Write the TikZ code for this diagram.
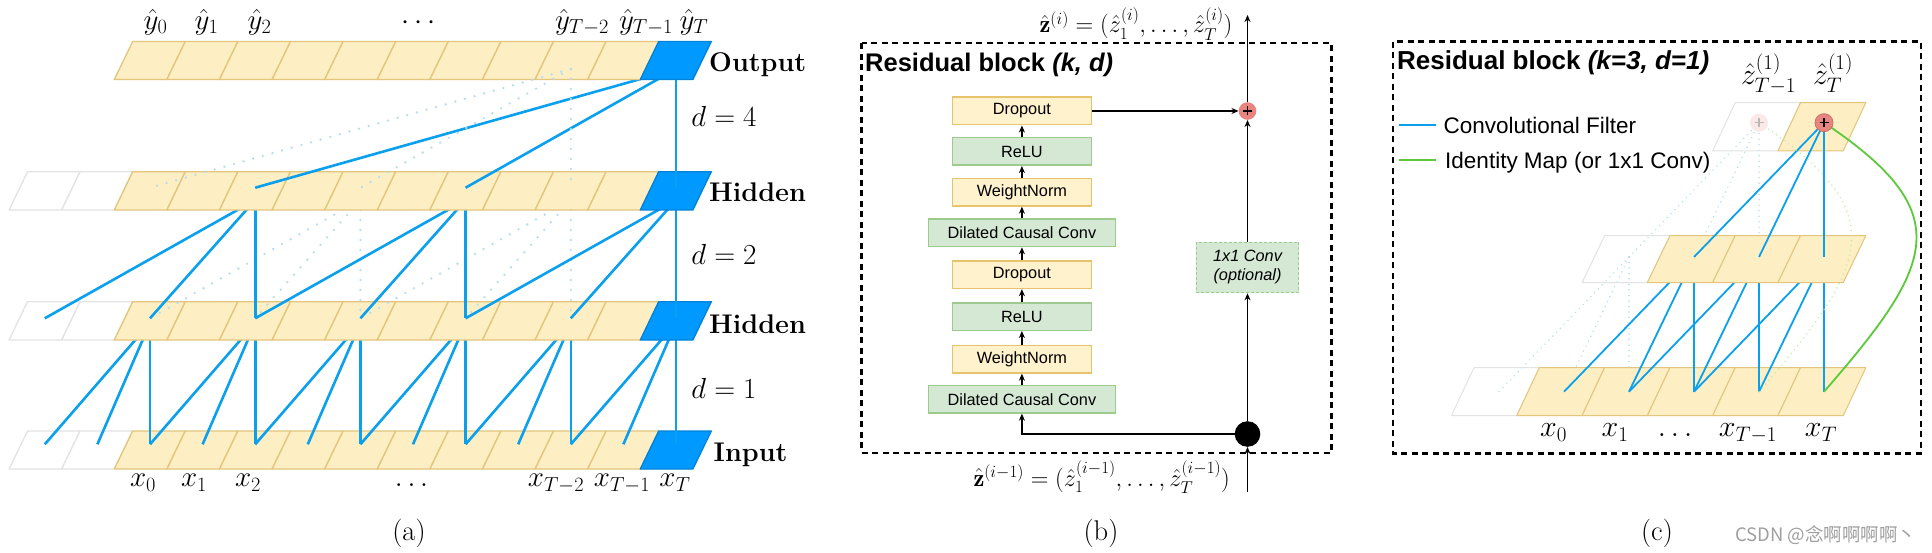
\RequirePackage{fix-cm}
\documentclass[tikz,border=0pt]{standalone}
\usepackage{amsmath}
\usepackage{fontspec}
\newfontfamily\arial{Liberation Sans}
\newfontfamily\cjk{Noto Sans CJK SC}
\usetikzlibrary{arrows.meta}
\definecolor{cellY}{HTML}{FDEEC3}
\definecolor{cellB}{HTML}{E3C57C}
\definecolor{blueC}{HTML}{0099FF}
\definecolor{lineB}{HTML}{0AA0EE}
\definecolor{dotB}{HTML}{B5DDF2}
\definecolor{wB}{HTML}{E3E3E3}
\definecolor{bY}{HTML}{FFF2CC}
\definecolor{bYd}{HTML}{E7C36B}
\definecolor{bG}{HTML}{D5E8D4}
\definecolor{bGd}{HTML}{9DCB8F}
\definecolor{plusR}{HTML}{E8857F}
\definecolor{greenL}{HTML}{5CC93A}
\definecolor{greenD}{HTML}{BDECA8}
\newcommand{\fsz}[1]{\fontsize{#1}{#1}\selectfont}
\newcommand{\arow}[3]{%
  \foreach \i in {#3,...,10}{%
    \pgfmathsetmacro\bl{114.3+52.6*\i}%
    \ifnum\i<0 \def\fc{white}\def\dc{wB}%
    \else\ifnum\i=10 \def\fc{blueC}\def\dc{blueC!85!black}%
    \else\def\fc{cellY}\def\dc{cellB}\fi\fi
    \draw[line width=1.3pt, line join=round, fill=\fc, draw=\dc] (\bl,#2) -- ++(52.6,0) -- ++(18.4,#1-#2) -- ++(-52.6,0) -- cycle;
  }}
\newcommand{\crow}[3]{%
  \foreach \k in {#3,...,4}{%
    \pgfmathsetmacro\xt{1539.3+65.3*\k}%
    \ifnum\k=#3 \def\fc{none}\def\dc{wB}\else\def\fc{cellY}\def\dc{cellB}\fi
    \draw[line width=1pt, line join=round, fill=\fc, draw=\dc] (\xt,#1) -- ++(65.3,0) -- ++(-22.6,#2) -- ++(-65.3,0) -- cycle;
  }}
\tikzset{
 al/.style={draw=lineB, line width=2.6pt},
 adot/.style={draw=dotB, line width=2.6pt, dash pattern=on 0pt off 10pt, line cap=round},
 cl/.style={draw=lineB, line width=1.8pt},
 cdot/.style={draw=dotB, line width=1.6pt, dash pattern=on 0pt off 5.5pt, line cap=round},
 cgd/.style={draw=greenD, line width=1.6pt, dash pattern=on 0pt off 5pt, line cap=round},
 arr/.style={-{Stealth[length=7pt,width=6pt]}, line width=1.4pt},
 fbox/.style={draw, line width=1.5pt, minimum height=27.5pt, inner sep=0pt, font=\arial\fsz{16.3}},
 ybox/.style={fbox, fill=bY, draw=bYd, minimum width=139.3pt},
 gbox/.style={fbox, fill=bG, draw=bGd, minimum width=139.3pt},
 gboxw/.style={fbox, fill=bG, draw=bGd, minimum width=186.7pt},
 dbox/.style={line width=2.4pt, dash pattern=on 6pt off 4.5pt},
 lab/.style={inner sep=0pt, anchor=base},
 amath/.style={lab, font=\fsz{29}},
 blab/.style={inner sep=0pt, anchor=base west, font=\bfseries\fsz{27}},
}
\begin{document}
\begin{tikzpicture}[x=1pt,y=-1pt]
\useasboundingbox (0,0) rectangle (1932,553);
\fill[white] (0,0) rectangle (1932,553);

% ================= panel (a) =================
\foreach \j in {0,...,12}{%
  \pgfmathsetmacro\px{150+52.6*(\j-2)}%
  \coordinate (I\j) at (\px,444.3);
  \coordinate (Hb\j) at (\px,318.3);
  \coordinate (Hbv\j) at (\px,323);
  \coordinate (Ha\j) at (\px,187.7);
  \coordinate (Hav\j) at (\px,200);
  \coordinate (Ov\j) at (\px,69);
}
\arow{431}{469}{-2}
\foreach \j in {2,4,...,12}{%
  \pgfmathtruncatemacro\ja{\j-1}\pgfmathtruncatemacro\jb{\j-2}%
  \draw[al] (Hbv\j) -- (I\j); \draw[al] (Hbv\j) -- (I\ja); \draw[al] (Hbv\j) -- (I\jb);
}
\arow{301.7}{340}{-2}
\foreach \j in {6,10}{%
  \pgfmathtruncatemacro\ja{\j-2}\pgfmathtruncatemacro\jb{\j-4}%
  \draw[adot] (Hav\j) -- (Hb\j); \draw[adot] (Hav\j) -- (Hb\ja); \draw[adot] (Hav\j) -- (Hb\jb);
}
\foreach \j in {4,8,12}{%
  \pgfmathtruncatemacro\ja{\j-2}\pgfmathtruncatemacro\jb{\j-4}%
  \draw[al] (Hav\j) -- (Hb\j); \draw[al] (Hav\j) -- (Hb\ja); \draw[al] (Hav\j) -- (Hb\jb);
}
\arow{171.7}{210}{-2}
\draw[al] (Ov12) -- (Ha12); \draw[al] (Ov12) -- (Ha8); \draw[al] (Ov12) -- (Ha4);
\arow{41.5}{79.5}{0}
\draw[adot] (Ov10) -- (Ha10); \draw[adot] (Ov10) -- (Ha6); \draw[adot] (Ov10) -- (Ha2);

\node[amath] at (155.5,29.5) {$\hat y_0$};
\node[amath] at (206.5,29.5) {$\hat y_1$};
\node[amath] at (259.5,29.5) {$\hat y_2$};
\node[amath] at (421,29.5) {$\cdots$};
\node[amath] at (582,29.5) {$\hat y_{T-2}$};
\node[amath] at (646,29.5) {$\hat y_{T-1}$};
\node[amath] at (694,29.5) {$\hat y_T$};
\node[amath] at (143,486.7) {$x_0$};
\node[amath] at (194,486.7) {$x_1$};
\node[amath] at (248,486.7) {$x_2$};
\node[amath] at (411.5,486.7) {$\ldots$};
\node[amath] at (556,486.7) {$x_{T-2}$};
\node[amath] at (622,486.7) {$x_{T-1}$};
\node[amath] at (675,486.7) {$x_T$};
\node[amath] at (724,126.7) {$d=4$};
\node[amath] at (724,265) {$d=2$};
\node[amath] at (724,398.3) {$d=1$};
\node[blab] at (709,71.7) {Output};
\node[blab] at (709,201.7) {Hidden};
\node[blab] at (709,333.3) {Hidden};
\node[blab] at (713.5,461.7) {Input};
\node[lab, font=\fsz{28.5}] at (409,540.5) {(a)};

% ================= panel (b) =================
\draw[dbox] (861.6,43.3) rectangle (1331.6,452.7);
\node[inner sep=0pt, anchor=base west, font=\arial\bfseries\fsz{25.5}] at (865,71.7) {Residual block \itshape(k, d)};
\node[ybox] (d1) at (1021.9,111) {Dropout};
\node[gbox] (r1) at (1021.9,151.5) {ReLU};
\node[ybox] (w1) at (1021.9,192.2) {WeightNorm};
\node[gboxw] (c1) at (1021.9,232.8) {Dilated Causal Conv};
\node[ybox] (d2) at (1021.9,274.7) {Dropout};
\node[gbox] (r2) at (1021.9,316.5) {ReLU};
\node[ybox] (w2) at (1021.9,359.2) {WeightNorm};
\node[gboxw] (c2) at (1021.9,399.2) {Dilated Causal Conv};
\draw[arr] (c2.north) -- (w2.south);
\draw[arr] (w2.north) -- (r2.south);
\draw[arr] (r2.north) -- (d2.south);
\draw[arr] (d2.north) -- (c1.south);
\draw[arr] (c1.north) -- (w1.south);
\draw[arr] (w1.north) -- (r1.south);
\draw[arr] (r1.north) -- (d1.south);
\node[circle, fill=plusR, minimum size=17.6pt, inner sep=0pt] (plus) at (1247.5,111) {};
\draw[line width=1.4pt] ([xshift=-4.5pt]plus.center) -- ([xshift=4.5pt]plus.center);
\draw[line width=1.4pt] ([yshift=-4.5pt]plus.center) -- ([yshift=4.5pt]plus.center);
\node[draw=bGd, fill=bG, dash pattern=on 3pt off 2pt, line width=1.2pt, minimum width=102.4pt, minimum height=50.4pt, inner sep=0pt, align=center, font=\arial\itshape\fontsize{16.3}{19}\selectfont] (conv) at (1247.5,267.5) {1x1 Conv\\(optional)};
\node[circle, fill=black, minimum size=25.6pt, inner sep=0pt] (dot) at (1247.5,434) {};
\coordinate (btop) at (1247.5,15);
\coordinate (bin) at (1247.5,491.7);
\draw[arr] (d1.east) -- (plus.west);
\draw[arr] (plus.north) -- (btop);
\draw[arr] (conv.north) -- (plus.south);
\draw[arr] (dot.north) -- (conv.south);
\draw[arr] (dot.west) -| (c2.south);
\draw[arr] (bin) -- (dot.south);
\node[lab, font=\fsz{24.5}] at (1136,33) {$\hat{\mathbf z}^{(i)}=(\hat z^{(i)}_1,\ldots,\hat z^{(i)}_T)$};
\node[lab, font=\fsz{24.5}] at (1101.7,486) {$\hat{\mathbf z}^{(i-1)}=(\hat z^{(i-1)}_1,\ldots,\hat z^{(i-1)}_T)$};
\node[lab, font=\fsz{28.5}] at (1101,540.5) {(b)};

% ================= panel (c) =================
\draw[dbox] (1393,41.7) rectangle (1921,453.3);
\node[inner sep=0pt, anchor=base west, font=\arial\bfseries\fsz{26}] at (1396.9,70) {Residual block \itshape(k=3, d=1)};
\coordinate (lb1) at (1399.4,125); \coordinate (lb2) at (1436.3,125);
\coordinate (lg1) at (1399.4,160); \coordinate (lg2) at (1436.3,160);
\draw[lineB, line width=2pt] (lb1) -- (lb2);
\draw[greenL, line width=2pt] (lg1) -- (lg2);
\node[inner sep=0pt, anchor=base west, font=\arial\fsz{22.5}] at (1443.4,133.3) {Convolutional Filter};
\node[inner sep=0pt, anchor=base west, font=\arial\fsz{22.5}] at (1445,168.3) {Identity Map (or 1x1 Conv)};

\foreach \j in {0,...,5}{%
  \pgfmathsetmacro\px{1564+65*(\j-1)}%
  \coordinate (B\j) at (\px,391.7);
  \coordinate (M\j) at (\px,257);
}
\coordinate (T4) at (1759,122.7);
\coordinate (T5) at (1824,122.7);
\foreach \j in {2,1,0} \draw[cdot] (M2) -- (B\j);
\foreach \j in {4,3,2} \draw[cdot] (T4) -- (M\j);
\crow{367.7}{48}{-1}
\foreach \j in {3,4,5}{%
  \pgfmathtruncatemacro\ja{\j-1}\pgfmathtruncatemacro\jb{\j-2}%
  \draw[cl] (M\j) -- (B\j); \draw[cl] (M\j) -- (B\ja); \draw[cl] (M\j) -- (B\jb);
}
\crow{235.7}{47}{1}
\crow{102.7}{48.3}{3}
\foreach \j in {5,4,3} \draw[cl] (T5) -- (M\j);
\draw[greenL, line width=1.8pt] (B5) .. controls (1935,264) and (1959,213) .. (T5);
\draw[cgd] (B4) .. controls (1870,264) and (1894,213) .. (T4);
\node[circle, fill=plusR!18, minimum size=18pt, inner sep=0pt] (pf) at (T4) {};
\draw[gray!55, line width=1.3pt] ([xshift=-4.5pt]pf.center) -- ([xshift=4.5pt]pf.center);
\draw[gray!55, line width=1.3pt] ([yshift=-4.5pt]pf.center) -- ([yshift=4.5pt]pf.center);
\node[circle, fill=plusR, draw=plusR!85!black, line width=0.8pt, minimum size=18pt, inner sep=0pt] (pr) at (T5) {};
\draw[line width=1.4pt] ([xshift=-4.5pt]pr.center) -- ([xshift=4.5pt]pr.center);
\draw[line width=1.4pt] ([yshift=-4.5pt]pr.center) -- ([yshift=4.5pt]pr.center);
\node[lab, font=\fsz{30}] at (1768.5,85) {$\hat z^{(1)}_{T-1}$};
\node[lab, font=\fsz{30}] at (1833,85) {$\hat z^{(1)}_{T}$};
\node[lab, font=\fsz{30}] at (1553.5,436.7) {$x_0$};
\node[lab, font=\fsz{30}] at (1615,436.7) {$x_1$};
\node[lab, font=\fsz{30}] at (1675,436.7) {$\ldots$};
\node[lab, font=\fsz{30}] at (1748,436.7) {$x_{T-1}$};
\node[lab, font=\fsz{30}] at (1821,436.7) {$x_T$};
\node[lab, font=\fsz{28.5}] at (1657,540.5) {(c)};
\node[inner sep=0pt, anchor=base west, font=\cjk\fsz{18.5}, text=gray!75] at (1735,541) {CSDN @念啊啊啊啊丶};
\end{tikzpicture}
\end{document}
